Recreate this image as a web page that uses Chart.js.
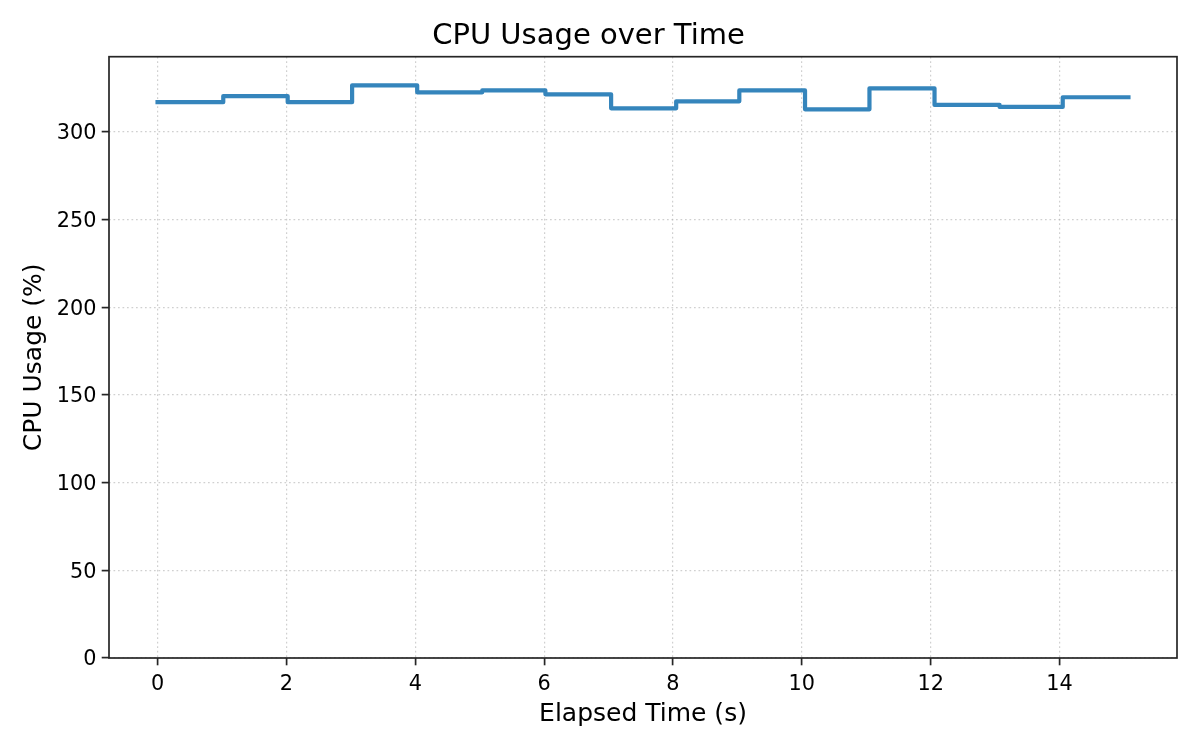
<!DOCTYPE html>
<html>
<head>
<meta charset="utf-8">
<title>CPU Usage over Time</title>
<script src="https://cdn.jsdelivr.net/npm/chart.js@4.4.1/dist/chart.umd.min.js"></script>
<style>
  html, body { margin: 0; padding: 0; background: #fff; }
  canvas { display: block; }
</style>
</head>
<body>
<canvas id="cpu-chart" width="1200" height="750"></canvas>
<script>
// ===== data =====
const elapsedTimes = [0, 1.02, 2.02, 3.02, 4.03, 5.04, 6.02, 7.04, 8.05, 9.03, 10.05, 11.05, 12.06, 13.07, 14.05, 15.07];
const cpuUsage = [317, 317, 320.5, 317, 326.6, 322.6, 323.7, 321.5, 313.5, 317.5, 323.7, 312.9, 324.9, 315.4, 314.3, 319.8];
const xTickValues = [0, 2, 4, 6, 8, 10, 12, 14];
const yTickValues = [0, 50, 100, 150, 200, 250, 300];

// matplotlib-like 5% margins on x, y starts at 0
const xSpan = elapsedTimes[elapsedTimes.length - 1] - elapsedTimes[0];
const xMin = elapsedTimes[0] - xSpan * 0.05;
const xMax = elapsedTimes[elapsedTimes.length - 1] + xSpan * 0.05;
const yMax = Math.max(...cpuUsage) * 1.05;

const gridColor = 'rgba(176, 176, 176, 0.6)';
const spineColor = '#262626';

Chart.defaults.font.family = "'DejaVu Sans', sans-serif";
Chart.defaults.color = '#000';

// full box around the plot area (top and right spines too)
const framePlugin = {
  id: 'frame',
  afterDatasetsDraw(chart) {
    const { ctx, chartArea: a } = chart;
    ctx.save();
    ctx.strokeStyle = spineColor;
    ctx.lineWidth = 1.7;
    ctx.strokeRect(a.left, a.top, a.right - a.left, a.bottom - a.top);
    ctx.restore();
  }
};

function createStepChart() {
  const canvas = document.getElementById('cpu-chart');
  const ctx = canvas.getContext('2d');
  const points = elapsedTimes.map((t, i) => ({ x: t, y: cpuUsage[i] }));

  new Chart(ctx, {
    type: 'line',
    data: {
      datasets: [{
        label: 'CPU Usage (%)',
        data: points,
        borderColor: '#3585bc',
        borderWidth: 4.2,
        borderCapStyle: 'square',
        borderJoinStyle: 'round',
        stepped: 'after',  // vertical first, like matplotlib where='pre'
        pointRadius: 0,
        fill: false
      }]
    },
    options: {
      responsive: false,
      devicePixelRatio: 1,
      animation: false,
      layout: { padding: { left: 0, right: 23, top: 0, bottom: 0 } },
      plugins: {
        legend: { display: false },
        tooltip: { enabled: false },
        title: {
          display: true,
          text: 'CPU Usage over Time',
          color: '#000',
          font: { size: 29, weight: 'normal' },
          padding: { top: 18.6, bottom: 3.3 }
        }
      },
      scales: {
        x: {
          type: 'linear',
          min: xMin,
          max: xMax,
          afterBuildTicks: (scale) => { scale.ticks = xTickValues.map(v => ({ value: v })); },
          afterFit: (scale) => { scale.height = 92; },
          ticks: { color: '#000', font: { size: 20.8 }, padding: 7, maxRotation: 0 },
          grid: { color: gridColor, lineWidth: 1.2, tickColor: spineColor, tickLength: 7.3, tickWidth: 1.7, tickBorderDash: [] },
          border: { display: false, dash: [1.7, 2.8] },
          title: { display: true, text: 'Elapsed Time (s)', color: '#000', font: { size: 25 }, padding: { top: 0, bottom: 20.5 } }
        },
        y: {
          min: 0,
          max: yMax,
          afterBuildTicks: (scale) => { scale.ticks = yTickValues.map(v => ({ value: v })); },
          afterFit: (scale) => { scale.width = 109; },
          ticks: { color: '#000', font: { size: 20.8 }, padding: 5.2, labelOffset: 2 },
          grid: { color: gridColor, lineWidth: 1.2, tickColor: spineColor, tickLength: 7.3, tickWidth: 1.7, tickBorderDash: [] },
          border: { display: false, dash: [1.7, 2.8] },
          title: { display: true, text: 'CPU Usage (%)', color: '#000', font: { size: 25 }, padding: { top: 19, bottom: 0 } }
        }
      }
    },
    plugins: [framePlugin]
  });
}

document.addEventListener('DOMContentLoaded', createStepChart);
</script>
</body>
</html>
